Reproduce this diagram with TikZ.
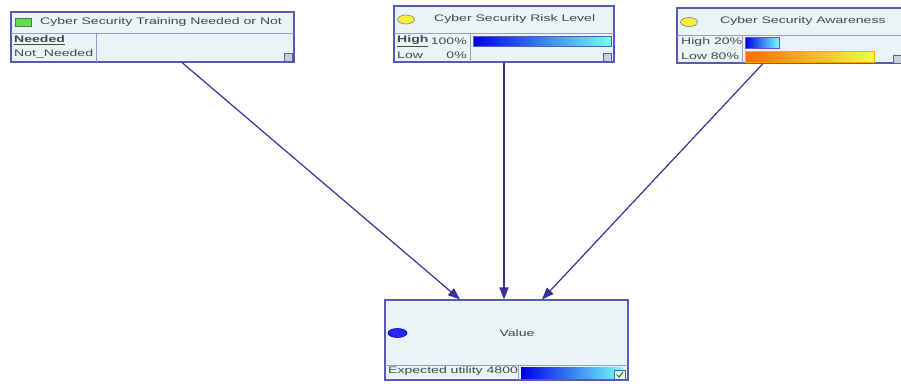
\documentclass[tikz,border=0pt]{standalone}
\usepackage{fontspec}
\newfontfamily\lab[FakeStretch=1.48]{Liberation Sans}
\usetikzlibrary{arrows.meta,shapes.geometric}
\definecolor{bfill}{HTML}{E8F4F6}
\definecolor{bline}{HTML}{5A58B0}
\definecolor{dline}{HTML}{9A98D0}
\definecolor{txt}{HTML}{474747}
\definecolor{arrc}{HTML}{33339A}
\definecolor{gbox}{HTML}{5EE04A}
\definecolor{ybox}{HTML}{F5EE3A}
\begin{document}
\begin{tikzpicture}[x=1pt,y=-1pt,
  box/.style={draw=bline,line width=1.1pt,fill=bfill,inner sep=0pt},
  div/.style={draw=dline,line width=0.8pt},
  lbl/.style={inner sep=0pt,text=txt,font=\lab\fontsize{9.5}{11}\selectfont},
  arr/.style={draw=arrc,line width=1.2pt,-{Triangle[length=12pt,width=9pt]}},
  icon/.style={draw=bline,line width=0.7pt,fill=bfill!70!gray,inner sep=0pt,minimum width=8pt,minimum height=8pt}]
\useasboundingbox (0,0) rectangle (901,383);
\fill[white] (0,0) rectangle (901,383);
\begin{scope}
\clip (0,0) rectangle (901,383);
% node 1
\node[box,minimum width=283pt,minimum height=50pt] (n1) at (152.5,37) {};
\draw[div] (11,33) -- (294,33);
\draw[div] (96,33) -- (96,62);
\node[draw=black!60,fill=gbox,minimum width=16pt,minimum height=8pt,inner sep=0pt,line width=0.6pt] (g1) at (23,22.5) {};
\node[lbl,anchor=west] (t1) at (40,22.5) {Cyber Security Training Needed or Not};
\node[lbl,anchor=west] (s11) at (14,40.5) {\bfseries\underline{Needed}};
\node[lbl,anchor=west] (s12) at (14,54) {Not\_Needed};
\node[icon] (i1) at (288.5,57) {};
% node 2
\node[box,minimum width=220pt,minimum height=56pt] (n2) at (504,34) {};
\draw[div] (394,33) -- (614,33);
\draw[div] (470,33) -- (470,62);
\node[draw=black!50,fill=ybox,ellipse,minimum width=17pt,minimum height=9pt,inner sep=0pt,line width=0.6pt] (e2) at (406,19.5) {};
\node[lbl,anchor=west] (t2) at (434,19.5) {Cyber Security Risk Level};
\node[lbl,anchor=west] (s21) at (397,41) {\bfseries\underline{High}};
\node[lbl,anchor=east] (p21) at (467,41) {100\%};
\node[lbl,anchor=west] (s22) at (397,55) {Low};
\node[lbl,anchor=east] (p22) at (467,55) {0\%};
\shade[left color=blue!90!black,right color=cyan!55!white] (473,36) rectangle (611,46);
\draw[bline,line width=0.5pt] (473,36) rectangle (611,46);
\node[icon] (i2) at (607.5,57) {};
% node 3
\node[box,minimum width=228pt,minimum height=55pt] (n3) at (791,35.5) {};
\draw[div] (677,35) -- (905,35);
\draw[div] (742,35) -- (742,63);
\node[draw=black!50,fill=ybox,ellipse,minimum width=17pt,minimum height=9pt,inner sep=0pt,line width=0.6pt] (e3) at (689,22) {};
\node[lbl,anchor=west] (t3) at (720,21.5) {Cyber Security Awareness};
\node[lbl,anchor=west] (s31) at (681,42.5) {High 20\%};
\node[lbl,anchor=west] (s32) at (681,56.5) {Low 80\%};
\shade[left color=blue!90!black,right color=cyan!55!white] (745,37) rectangle (779,48);
\draw[bline,line width=0.5pt] (745,37) rectangle (779,48);
\shade[left color=orange!85!red,right color=yellow!80!white] (745,51) rectangle (874,62);
\draw[orange!70!yellow,line width=0.5pt] (745,51) rectangle (874,62);
\node[icon] (i3) at (897.5,59) {};
% value node
\node[box,minimum width=243pt,minimum height=80pt] (v) at (506.5,340) {};
\draw[div] (385,365) -- (628,365);
\draw[div] (518,365) -- (518,380);
\node[draw=blue!60!black,fill=blue!85!white,ellipse,minimum width=19pt,minimum height=9pt,inner sep=0pt,line width=0.6pt] (e4) at (397.5,333) {};
\node[lbl] (t4) at (517,333) {Value};
\node[lbl,anchor=west] (u4) at (388,371.5) {Expected utility 4800};
\shade[left color=blue!90!black,right color=cyan!55!white] (521,367) rectangle (622,378.5);
\node[draw=bline,line width=0.6pt,fill=bfill,inner sep=0pt,minimum width=11pt,minimum height=9pt] (i4) at (619.5,374.5) {};
\draw[green!50!black,line width=1pt] ([xshift=-3pt,yshift=0pt]i4.center) -- ([xshift=-0.5pt,yshift=-2.5pt]i4.center) -- ([xshift=3.5pt,yshift=2.5pt]i4.center);
\end{scope}
% connectors
\draw[arr] ([xshift=29.5pt]n1.south) -- ([xshift=-46.5pt]v.north);
\draw[arr] (n2.south) -- (n2.south |- v.north);
\draw[arr] ([xshift=-28pt]n3.south) -- ([xshift=35.5pt]v.north);
\end{tikzpicture}
\end{document}
